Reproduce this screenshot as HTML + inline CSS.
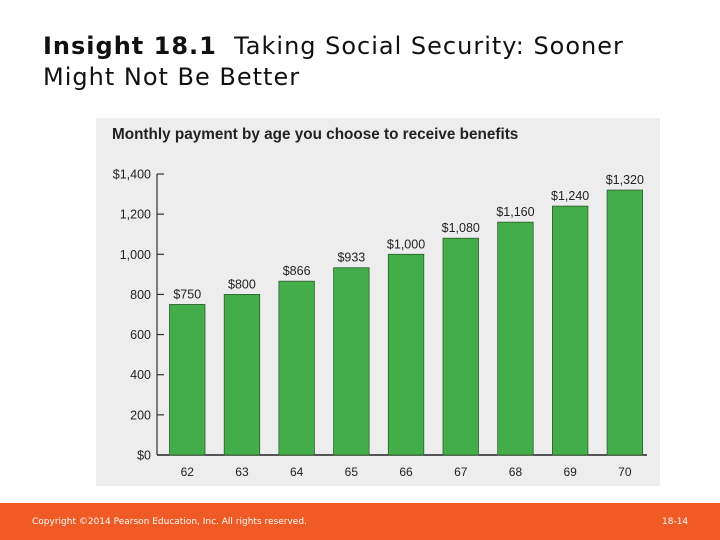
<!DOCTYPE html>
<html><head><meta charset="utf-8"><style>
body{margin:0;width:720px;height:540px;background:#fff;position:relative;overflow:hidden;font-family:"DejaVu Sans","Liberation Sans",sans-serif}
#title{position:absolute;left:43px;top:31px;font-size:24px;line-height:31px;color:#111;letter-spacing:1px}
#footer{position:absolute;left:0;top:503px;width:720px;height:37px;background:#f05a24}
.ft{position:absolute;top:14px;font-size:9px;color:#fff}
</style></head><body>
<div id="title"><b>Insight 18.1</b>&nbsp; Taking Social Security: Sooner<br>Might Not Be Better</div>
<svg id="chart" style="position:absolute;left:0;top:0" width="720" height="540">
<rect x="96" y="118" width="564" height="368" fill="#ededed"/>
<text x="112" y="139" font-family="Liberation Sans,sans-serif" font-weight="bold" font-size="15.3" fill="#222">Monthly payment by age you choose to receive benefits</text>
<g id="axes"></g><g id="bars"></g>
</svg>
<div id="footer">
<div class="ft" style="left:32px">Copyright ©2014 Pearson Education, Inc. All rights reserved.</div>
<div class="ft" style="left:662px">18-14</div>
</div>
<script>
const categories=["62","63","64","65","66","67","68","69","70"];
const values=[750,800,866,933,1000,1080,1160,1240,1320];
const valueLabels=["$750","$800","$866","$933","$1,000","$1,080","$1,160","$1,240","$1,320"];
const ticks=[0,200,400,600,800,1000,1200,1400];
const tickLabels=["$0","200","400","600","800","1,000","1,200","$1,400"];
const NS="http://www.w3.org/2000/svg";
const y=v=>455-(v/1400)*281;
const x=i=>169.5+i*54.7;
const bw=35.5;
function mk(t,a,p){const e=document.createElementNS(NS,t);for(const k in a)e.setAttribute(k,a[k]);p.appendChild(e);return e;}
const ax=document.getElementById('axes'),bg=document.getElementById('bars');
let l=mk('line',{x1:157,y1:y(1400),x2:157,y2:455,stroke:'#333','stroke-width':1.2},ax);


l=mk('line',{x1:157,y1:455,x2:647,y2:455,stroke:'#222','stroke-width':1.5},ax);


ticks.forEach((t,i)=>{
 const tk=mk('line',{x1:157,y1:y(t),x2:164,y2:y(t),stroke:'#333','stroke-width':1.2},ax);
 
 
 const tx=mk('text',{x:151,y:y(t)+4.5,'text-anchor':'end','font-family':'Liberation Sans,sans-serif','font-size':12.5,fill:'#222'},ax);
 tx.textContent=tickLabels[i];
 
 
});
values.forEach((v,i)=>{
 const r=mk('rect',{x:x(i),y:y(v),width:bw,height:455-y(v),fill:'#43ad4a',stroke:'#2b5e2e','stroke-width':0.8},bg);
 
 
 const vl=mk('text',{x:x(i)+bw/2,y:y(v)-6,'text-anchor':'middle','font-family':'Liberation Sans,sans-serif','font-size':12.5,fill:'#222'},bg);
 vl.textContent=valueLabels[i];
 
 
 const cl=mk('text',{x:x(i)+bw/2,y:476,'text-anchor':'middle','font-family':'Liberation Sans,sans-serif','font-size':12,fill:'#222'},bg);
 cl.textContent=categories[i];
 
 
});
</script>
</body></html>
